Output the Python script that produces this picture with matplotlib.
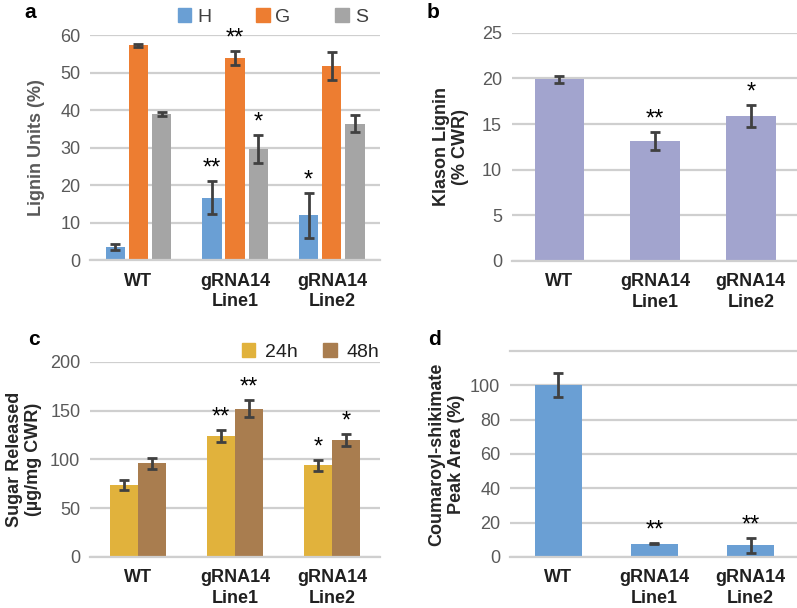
import matplotlib.pyplot as plt
import numpy as np

plt.rcParams['font.family'] = ['Liberation Sans', 'DejaVu Sans']

categories = ["WT", "gRNA14\nLine1", "gRNA14\nLine2"]

# panel a: lignin units
h_vals = [3.5, 16.7, 12.0]
h_err = [0.7, 4.5, 6.0]
h_stars = ["", "**", "*"]
g_vals = [57.3, 54.0, 51.8]
g_err = [0.3, 1.8, 3.8]
g_stars = ["", "**", ""]
s_vals = [39.0, 29.6, 36.4]
s_err = [0.5, 3.8, 2.3]
s_stars = ["", "*", ""]

# panel b: klason lignin
klason_vals = [19.9, 13.1, 15.9]
klason_err = [0.35, 1.0, 1.2]
klason_stars = ["", "**", "*"]

# panel c: sugar release
sugar_24 = [74, 124, 94]
sugar_24_err = [5, 6.5, 5.5]
sugar_48 = [96, 152, 120]
sugar_48_err = [5.5, 8.5, 6]
stars_24 = ["", "**", "*"]
stars_48 = ["", "**", "*"]

# panel d: coumaroyl-shikimate
cs_vals = [100, 7.8, 6.8]
cs_err = [7, 0.4, 4.5]
cs_stars = ["", "**", "**"]

BLUE = "#6A9FD4"
ORANGE = "#ED7D31"
GRAY = "#A5A5A5"
LAV = "#A2A4CE"
GOLD = "#E1B23C"
BROWN = "#A97D4F"
GRID = "#CFCFCF"
TICK = "#595959"
ERR = "#404040"


def style_axis(ax, ymax, step):
    ax.set_ylim(0, ymax)
    ax.set_yticks(np.arange(0, ymax + 0.1, step))
    ax.yaxis.grid(True, color=GRID, linewidth=1.6)
    ax.set_axisbelow(True)
    for side in ["top", "right", "left"]:
        ax.spines[side].set_visible(False)
    ax.spines["bottom"].set_color(GRID)
    ax.spines["bottom"].set_linewidth(1.6)
    ax.tick_params(length=0, labelsize=13, labelcolor=TICK)
    ax.tick_params(axis="y", pad=7)
    ax.tick_params(axis="x", pad=9)
    ax.set_xticks(range(len(categories)))
    ax.set_xticklabels(categories, fontweight="bold", fontsize=13, color="#202020",
                       linespacing=1.25)
    ax.set_xlim(-0.5, 2.5)


def bars(ax, x, vals, errs, color, width, stars):
    ax.bar(x, vals, width, color=color)
    ax.errorbar(x, vals, yerr=errs, fmt="none", ecolor=ERR, elinewidth=2,
                capsize=3.5, capthick=2)
    for xi, v, e, s in zip(x, vals, errs, stars):
        if s:
            ax.annotate(s, (xi, v + e), xytext=(0, 1), textcoords="offset points",
                        ha="center", va="bottom", fontsize=17)


fig = plt.figure(figsize=(7.97, 6.08), dpi=100)
x = np.arange(3)

# a
ax = fig.add_axes([0.113, 0.572, 0.364, 0.370])
w = 0.2
bars(ax, x - 0.24, h_vals, h_err, BLUE, w, h_stars)
bars(ax, x, g_vals, g_err, ORANGE, w, g_stars)
bars(ax, x + 0.24, s_vals, s_err, GRAY, w, s_stars)
style_axis(ax, 60, 10)
ax.set_ylabel("Lignin Units (%)", fontweight="bold", fontsize=13, color="#595959")
ax.yaxis.set_label_coords(-0.155, 0.5)
handles = [plt.Rectangle((0, 0), 1, 1, color=c) for c in (BLUE, ORANGE, GRAY)]
ax.legend(handles, ["H", "G", "S"], ncol=3, frameon=False, fontsize=14,
          loc="center", bbox_to_anchor=(0.63, 1.08), handlelength=0.7,
          handleheight=0.7, handletextpad=0.3, columnspacing=2.3, labelcolor="#404040",
          borderpad=0, borderaxespad=0)
fig.text(0.031, 0.970, "a", fontsize=15, fontweight="bold")

# b
ax = fig.add_axes([0.642, 0.571, 0.36, 0.375])
bars(ax, x, klason_vals, klason_err, LAV, 0.52, klason_stars)
style_axis(ax, 25, 5)
ax.set_ylabel("Klason Lignin\n(% CWR)", fontweight="bold", fontsize=13, color="#262626")
ax.yaxis.set_label_coords(-0.147, 0.5)
fig.text(0.535, 0.970, "b", fontsize=15, fontweight="bold")

# c
ax = fig.add_axes([0.113, 0.084, 0.364, 0.321])
w = 0.29
bars(ax, x - w / 2, sugar_24, sugar_24_err, GOLD, w, stars_24)
bars(ax, x + w / 2, sugar_48, sugar_48_err, BROWN, w, stars_48)
style_axis(ax, 200, 50)
ax.set_ylabel("Sugar Released\n(µg/mg CWR)", fontweight="bold", fontsize=13, color="#262626")
ax.yaxis.set_label_coords(-0.165, 0.5)
handles = [plt.Rectangle((0, 0), 1, 1, color=c) for c in (GOLD, BROWN)]
ax.legend(handles, ["24h", "48h"], ncol=2, frameon=False, fontsize=14,
          loc="center", bbox_to_anchor=(0.76, 1.05), handlelength=0.7,
          handleheight=0.7, handletextpad=0.5, columnspacing=1.3, labelcolor="#202020",
          borderpad=0, borderaxespad=0)
fig.text(0.035, 0.433, "c", fontsize=15, fontweight="bold")

# d
ax = fig.add_axes([0.640, 0.084, 0.362, 0.339])
bars(ax, x, cs_vals, cs_err, BLUE, 0.49, cs_stars)
style_axis(ax, 120, 20)
ax.set_yticks(np.arange(0, 101, 20))
ax.axhline(120, color=GRID, linewidth=1.6, clip_on=False)
ax.set_ylabel("Coumaroyl-shikimate\nPeak Area (%)", fontweight="bold", fontsize=13, color="#262626")
ax.yaxis.set_label_coords(-0.157, 0.5)
fig.text(0.537, 0.433, "d", fontsize=15, fontweight="bold")

fig.savefig("out.png", dpi=100)
